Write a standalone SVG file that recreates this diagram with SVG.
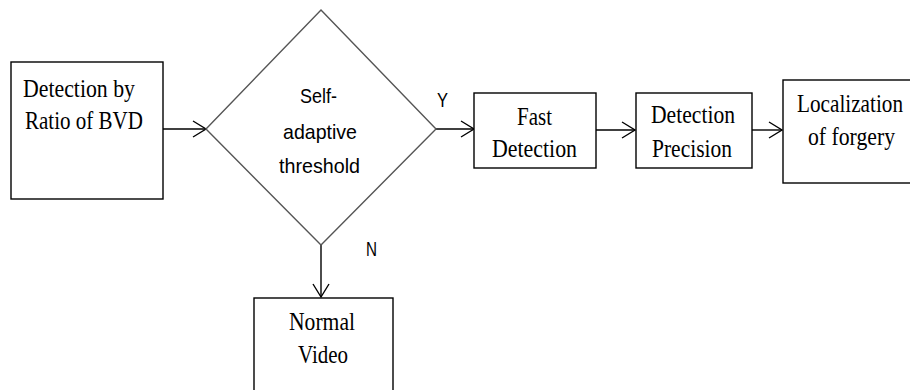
<svg xmlns="http://www.w3.org/2000/svg" width="910" height="390" viewBox="0 0 910 390">
<style>
.box{fill:#fff;stroke:#000;stroke-width:1.4}
.dia{fill:#fff;stroke:#555;stroke-width:1.4}
.st{font-family:"Liberation Serif","Times New Roman",serif;font-size:25px;fill:#000}
.ss{font-family:"Liberation Sans",Arial,sans-serif;font-size:21px;fill:#000}
.cn{stroke:#000;stroke-width:1.4;fill:none}
</style>
<defs>
<marker id="ah" markerUnits="userSpaceOnUse" markerWidth="20" markerHeight="20" refX="14" refY="10" orient="auto">
<path d="M1,2 L14,10 L1,18" fill="none" stroke="#000" stroke-width="1.4"/>
</marker>
</defs>
<rect width="910" height="390" fill="#fff"/>
<g id="connectors">
<line class="cn" x1="163" y1="129" x2="206" y2="129" marker-end="url(#ah)"/>
<line class="cn" x1="436" y1="129" x2="474" y2="129" marker-end="url(#ah)"/>
<line class="cn" x1="596" y1="130" x2="635" y2="130" marker-end="url(#ah)"/>
<line class="cn" x1="752" y1="130" x2="782" y2="130" marker-end="url(#ah)"/>
<line class="cn" x1="321" y1="245" x2="321" y2="297" marker-end="url(#ah)"/>
<text class="ss" x="437" y="107" textLength="11" lengthAdjust="spacingAndGlyphs">Y</text>
<text class="ss" x="366" y="256" textLength="11" lengthAdjust="spacingAndGlyphs">N</text>
</g>
<g id="bvd">
<rect class="box" x="11" y="62" width="152" height="137"/>
<text class="st" x="23" y="97" textLength="112" lengthAdjust="spacingAndGlyphs">Detection by</text>
<text class="st" x="25" y="129" textLength="118" lengthAdjust="spacingAndGlyphs">Ratio of BVD</text>
</g>
<g id="threshold">
<polygon class="dia" points="321,10 436,129 321,245 206,129"/>
<text class="ss" x="300" y="103" textLength="37" lengthAdjust="spacingAndGlyphs">Self-</text>
<text class="ss" x="283" y="139" textLength="74" lengthAdjust="spacingAndGlyphs">adaptive</text>
<text class="ss" x="279" y="173" textLength="81" lengthAdjust="spacingAndGlyphs">threshold</text>
</g>
<g id="fast">
<rect class="box" x="474" y="93" width="122" height="75"/>
<text class="st" x="517" y="125" textLength="35" lengthAdjust="spacingAndGlyphs">Fast</text>
<text class="st" x="492" y="157" textLength="85" lengthAdjust="spacingAndGlyphs">Detection</text>
</g>
<g id="precision">
<rect class="box" x="636" y="93" width="116" height="75"/>
<text class="st" x="651" y="123" textLength="84" lengthAdjust="spacingAndGlyphs">Detection</text>
<text class="st" x="652" y="157" textLength="80" lengthAdjust="spacingAndGlyphs">Precision</text>
</g>
<g id="localization">
<rect class="box" x="783" y="80" width="140" height="103"/>
<text class="st" x="797" y="112" textLength="106" lengthAdjust="spacingAndGlyphs">Localization</text>
<text class="st" x="808" y="145" textLength="87" lengthAdjust="spacingAndGlyphs">of forgery</text>
</g>
<g id="normal">
<rect class="box" x="254" y="298" width="139" height="110"/>
<text class="st" x="289" y="330" textLength="66" lengthAdjust="spacingAndGlyphs">Normal</text>
<text class="st" x="298" y="363" textLength="50" lengthAdjust="spacingAndGlyphs">Video</text>
</g>
</svg>
